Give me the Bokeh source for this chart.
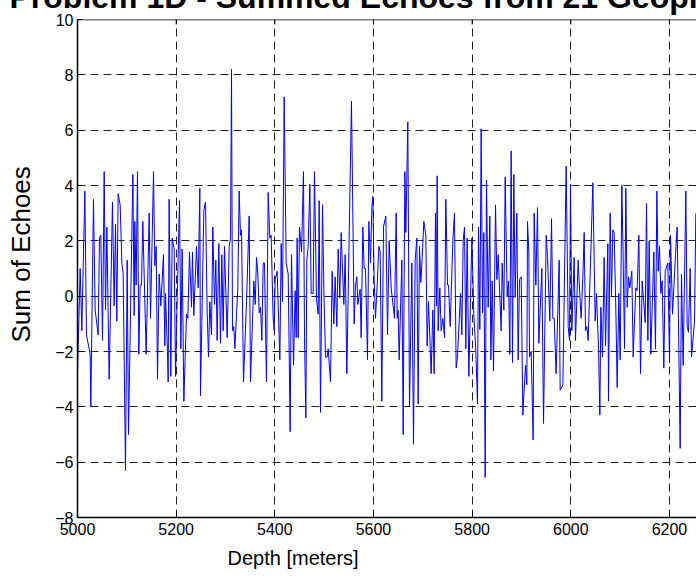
import numpy as np
from math import pi
from bokeh.plotting import figure
from bokeh.models import Range1d, LinearAxis, FixedTicker, Title, Grid, ColumnDataSource, Span
from bokeh.embed import file_html
from bokeh.resources import INLINE

title_text = "Problem 1D - Summed Echoes from 21 Geophones"
x_label = "Depth [meters]"
y_label = "Sum of Echoes"
x_ticks = [5000, 5200, 5400, 5600, 5800, 6000, 6200]
y_ticks = [-8, -6, -4, -2, 0, 2, 4, 6, 8, 10]

# ---- data, in six stretches of depth ----
depth_a = [5000.0, 5005.4, 5008.8, 5014.9, 5018.2, 5025.7, 5027.0, 5032.4, 5035.8, 5041.9,
           5044.6, 5047.3, 5050.7, 5054.1, 5056.8, 5059.5, 5064.2, 5070.9, 5074.3, 5077.0,
           5079.7, 5082.4, 5086.5, 5089.9, 5092.6, 5097.3, 5100.7, 5103.4, 5112.2, 5114.9,
           5116.2, 5118.9, 5121.6, 5124.3, 5127.0, 5129.7, 5132.4, 5139.2, 5145.3, 5148.0,
           5154.1, 5156.8, 5159.5, 5162.2, 5165.5, 5168.9, 5174.3, 5177.0, 5178.4, 5182.4,
           5183.8, 5185.8, 5189.2, 5191.9, 5196.0, 5198.7, 5202.7, 5206.8, 5209.5]
echo_a = [-2.8, 1.0, -1.25, 3.8, -1.4, -2.1, -4.0, 3.5, -0.5, -1.4,
          2.1, 2.2, -1.6, 4.5, -0.5, 2.5, -3.0, 3.4, -0.35, 2.6,
          -0.9, 3.7, 3.3, 1.2, 0.8, -6.3, 1.3, -5.0, 4.4, -0.7,
          2.7, 0.4, 4.5, -2.1, 0.4, 0.4, 2.7, -2.1, 3.0, -0.8,
          4.5, 1.1, 1.8, -3.0, 0.8, -0.35, 1.5, -1.8, 0.1, -2.0,
          -3.1, 3.5, -2.9, 2.1, 1.7, -2.9, 0.4, 3.45, -1.9]

depth_b = [5212.2, 5215.6, 5221.0, 5223.7, 5227.0, 5231.1, 5233.1, 5235.8, 5241.2, 5244.6,
           5248.0, 5249.3, 5252.0, 5256.1, 5259.5, 5262.9, 5265.6, 5268.3, 5271.6, 5274.3,
           5277.7, 5280.4, 5283.1, 5286.5, 5289.9, 5292.6, 5295.3, 5298.0, 5303.4, 5307.5,
           5310.2, 5312.2, 5314.2, 5316.9, 5319.0, 5325.0, 5327.7, 5330.4, 5332.5, 5336.5,
           5342.6, 5348.0, 5350.7, 5357.5, 5360.2, 5362.9, 5365.6, 5368.3, 5371.0, 5373.7,
           5376.4, 5379.1, 5383.1, 5386.5, 5389.9, 5392.6, 5396.6, 5398.7, 5400.7, 5404.7,
           5410.2, 5412.9, 5415.6, 5419.0]
echo_b = [1.7, -3.8, -0.65, -0.8, 1.6, -0.4, 1.6, -0.7, 1.8, 0.3,
          3.9, -3.6, -1.0, 3.1, 3.4, -0.65, -2.2, -0.2, -1.4, 2.5,
          -0.3, 1.3, -1.6, 1.9, -1.7, 1.5, -1.25, 1.8, -1.5, 1.8,
          2.1, 8.2, -1.25, -1.1, -1.9, 0.3, 3.8, 2.2, 2.4, -3.1,
          -0.2, 2.9, -3.1, 0.55, -0.3, 1.4, 0.8, -0.6, -0.4, -1.6,
          1.2, 1.2, -3.1, 3.75, 2.1, 2.2, -0.8, -1.25, 0.6, 0.9,
          -2.3, 1.9, -0.2, 7.2]

depth_c = [5423.0, 5427.1, 5431.1, 5433.8, 5437.9, 5441.2, 5443.3, 5445.3, 5447.3, 5450.0,
           5454.1, 5458.1, 5460.2, 5462.9, 5464.9, 5467.6, 5471.0, 5473.7, 5477.7, 5480.4,
           5484.5, 5487.9, 5489.9, 5492.6, 5496.7, 5499.4, 5502.7, 5506.1, 5508.1, 5512.9,
           5516.2, 5519.6, 5522.3, 5525.7, 5528.4, 5531.8, 5534.5, 5539.9, 5542.6, 5546.0,
           5555.4, 5560.8, 5563.6, 5566.3, 5568.3, 5570.3, 5573.0, 5575.0, 5578.4, 5581.1,
           5583.8, 5587.9, 5590.6, 5594.0, 5596.7, 5598.7, 5601.4, 5604.1, 5607.5, 5610.9,
           5613.6, 5616.9, 5620.3, 5625.0]
echo_c = [1.2, 0.8, -4.9, 1.5, -2.5, 0.2, -1.5, 2.1, -1.5, 2.5,
          1.6, 4.5, -1.5, -4.4, 1.3, 1.8, 4.05, 0.1, 0.1, 4.5,
          -0.1, -0.65, 3.45, -4.2, 3.3, 0.25, -2.2, -2.2, -1.9, -3.1,
          0.9, -1.0, 0.7, -1.1, 1.7, -0.05, 2.3, -0.3, 1.5, -2.8,
          7.05, -1.0, 0.4, 0.7, -0.3, -0.05, 0.25, -1.5, 2.5, 1.0,
          1.0, -2.3, 2.7, 1.2, 3.2, 3.6, 0.55, -0.8, 0.4, 1.8,
          1.6, -3.8, 2.5, 2.9]

depth_d = [5628.4, 5631.8, 5635.9, 5642.6, 5646.0, 5648.0, 5650.0, 5652.1, 5657.5, 5660.2,
           5663.6, 5665.6, 5669.6, 5673.0, 5677.8, 5681.1, 5684.5, 5687.9, 5690.6, 5693.3,
           5696.0, 5698.7, 5702.1, 5706.1, 5708.8, 5711.5, 5716.9, 5720.3, 5723.0, 5725.7,
           5727.8, 5729.1, 5731.1, 5734.5, 5737.2, 5740.6, 5744.0, 5746.7, 5750.1, 5752.1,
           5755.5, 5760.9, 5764.2, 5767.6, 5770.3, 5776.4, 5779.1, 5781.8, 5784.5, 5787.2,
           5789.9, 5793.3, 5799.4, 5803.4, 5807.5, 5810.9, 5812.9, 5815.6, 5818.3, 5821.0,
           5823.7, 5826.4, 5829.1, 5832.5, 5835.9]
echo_d = [-1.4, 2.0, 0.3, -0.8, 3.0, -0.8, -0.5, -2.3, 1.3, -5.0,
          4.5, 2.3, 6.3, -4.0, 1.2, -5.35, 1.3, 2.1, -3.9, 1.8,
          0.5, 1.4, 2.7, 2.2, -1.8, -0.2, -2.8, -0.5, -2.8, 3.0,
          -0.35, 4.35, -1.25, 0.3, -1.25, -0.8, -1.5, 3.5, 0.4, 0.4,
          -1.1, 2.0, 3.0, -2.6, -2.2, 0.1, -1.4, 2.0, 2.5, -1.9,
          2.1, -2.9, 2.1, -0.65, -2.0, -3.9, 2.5, -1.2, 6.05, -0.6,
          2.3, -6.55, 4.2, -0.4, 2.9]

depth_e = [5837.9, 5840.6, 5843.3, 5847.4, 5850.1, 5852.8, 5858.9, 5860.9, 5864.3, 5867.0,
           5871.0, 5873.7, 5876.4, 5879.1, 5881.8, 5884.5, 5887.2, 5890.6, 5893.3, 5896.0,
           5899.4, 5902.8, 5908.2, 5910.9, 5912.2, 5914.9, 5916.3, 5919.7, 5923.7, 5925.7,
           5929.1, 5932.5, 5935.2, 5941.3, 5944.7, 5950.1, 5952.8, 5957.5, 5960.9, 5963.6,
           5966.3, 5970.3, 5976.4, 5978.4, 5983.9, 5990.6, 5994.7, 5997.4, 5999.4, 6002.1,
           6006.8, 6009.5, 6014.9, 6019.0, 6021.0, 6024.4, 6027.1, 6029.8, 6032.5, 6035.2,
           6041.3, 6044.7]
echo_e = [-2.3, 0.55, -2.7, 3.3, 0.6, 1.5, -1.25, 1.2, -0.5, 4.3,
          0.0, 0.55, -2.1, 5.25, -2.4, 4.4, -0.05, 3.0, -2.3, 0.6,
          0.7, -4.3, -2.5, -3.2, 2.7, 1.6, -2.2, -2.0, -5.2, 3.0,
          0.4, 3.2, -1.7, 1.0, -4.6, 2.2, 1.4, -0.9, 2.8, -0.8,
          -0.8, -2.8, 1.3, -3.4, -3.2, 4.7, -1.1, -1.6, 4.05, -1.25,
          1.4, -1.6, 1.3, -0.2, -0.8, 0.7, 2.3, -1.25, -1.1, -1.6,
          2.0, 4.1]

depth_f = [6049.4, 6052.1, 6056.2, 6058.9, 6060.9, 6064.3, 6067.6, 6070.4, 6075.1, 6076.4,
           6079.8, 6082.5, 6085.2, 6087.9, 6091.3, 6094.0, 6097.4, 6100.1, 6103.5, 6106.2,
           6108.9, 6111.6, 6114.3, 6117.0, 6119.7, 6123.7, 6126.4, 6131.8, 6134.5, 6137.9,
           6141.3, 6144.7, 6150.8, 6153.5, 6156.2, 6158.9, 6162.2, 6168.3, 6171.7, 6174.4,
           6177.1, 6179.8, 6182.5, 6185.2, 6188.6, 6191.3, 6196.7, 6200.1, 6202.1, 6206.2,
           6212.2, 6215.6, 6221.7, 6224.4, 6227.8, 6233.2, 6235.9, 6238.6, 6242.0, 6244.7,
           6250.8, 6253.5]
echo_f = [-0.9, 0.1, -1.9, -4.3, -0.4, -2.2, 1.4, -1.8, 1.9, -3.8,
          3.0, 0.0, 2.4, 2.3, -0.5, -3.3, 0.1, -2.3, 4.0, 1.3,
          -1.9, 3.9, -0.4, 0.7, 0.3, 0.9, -2.2, 0.3, 0.2, 2.2,
          -2.8, 0.55, -0.95, 3.35, -1.6, 2.0, -2.1, 1.6, -1.9, 3.8,
          0.9, 1.8, 0.1, 0.55, -2.6, 0.9, 1.2, -2.4, 2.2, -0.65,
          1.5, 2.5, -5.5, 0.8, -2.5, 3.8, -1.1, -1.3, 1.0, -2.2,
          -0.9, 3.0]

depth = depth_a + depth_b + depth_c + depth_d + depth_e + depth_f
echo = echo_a + echo_b + echo_c + echo_d + echo_e + echo_f
assert len(depth) == len(echo)

# ---- figure ----
FONT = "Liberation Sans"
PULL_T, PULL_L = 31, 20                   # canvas pulled up/left so the title shows only partly
FR_L, FR_T, FR_B = 77, 19, 517            # frame edges in window pixels
W, H = 696 + PULL_L, 576 + PULL_T
X_END = 6254.8

p = figure(width=W, height=H, output_backend="svg", toolbar_location=None,
           x_range=Range1d(5000, X_END), y_range=Range1d(-8, 10),
           x_axis_location=None, y_axis_location=None,
           min_border_left=FR_L + PULL_L, min_border_right=0,
           min_border_top=FR_T + PULL_T, min_border_bottom=576 - FR_B,
           margin=(-PULL_T, 0, 0, -PULL_L))
p.outline_line_color = None
p.background_fill_color = "white"
p.border_fill_color = "white"
p.grid.visible = False

xt = FixedTicker(ticks=x_ticks)
yt = FixedTicker(ticks=y_ticks)

def style_axis(ax):
    ax.major_tick_in = 5
    ax.major_tick_out = 0
    ax.minor_tick_in = 0
    ax.minor_tick_out = 0
    ax.axis_line_color = "black"
    ax.axis_line_width = 1.5
    ax.major_tick_line_color = "black"
    ax.major_tick_line_width = 1
    ax.major_label_text_font = FONT
    ax.major_label_text_color = "black"
    ax.major_label_text_font_size = "16px"

bottom = LinearAxis(ticker=xt)
style_axis(bottom)
bottom.major_label_standoff = 5
p.add_layout(bottom, "below")

left = LinearAxis(ticker=yt)
style_axis(left)
left.major_label_standoff = 4
p.add_layout(left, "left")

# top border with inward ticks
p.add_layout(Span(location=10, dimension="width", line_color="black", line_width=1.5))
p.ray(x=x_ticks, y=[10] * len(x_ticks), length=5, length_units="screen",
      angle=-pi / 2, line_color="black", line_width=1)

xg = Grid(dimension=0, ticker=FixedTicker(ticks=x_ticks[1:]),
          grid_line_color="#202020", grid_line_width=1, grid_line_dash="8 5")
yg = Grid(dimension=1, ticker=FixedTicker(ticks=y_ticks[1:-1]),
          grid_line_color="#202020", grid_line_width=1, grid_line_dash="8 5")
p.add_layout(xg)
p.add_layout(yg)

src = ColumnDataSource(data=dict(depth=depth, echo=echo))
p.line("depth", "echo", source=src, line_color="#0000FF", line_width=1)

# axis labels and title as Title panels
p.add_layout(Title(text=x_label, align="left", offset=150, standoff=14, vertical_align="bottom",
                   text_font=FONT, text_font_size="20px", text_font_style="normal",
                   text_color="black"), "below")
p.add_layout(Title(text=y_label, align="left", offset=175, standoff=33, vertical_align="bottom",
                   text_font=FONT, text_font_size="26px", text_font_style="normal",
                   text_color="black"), "left")
p.add_layout(Title(text=title_text, align="left", offset=-68, standoff=9, vertical_align="bottom",
                   text_font=FONT, text_font_size="32px", text_font_style="bold",
                   text_color="black"), "above")

open("out.html", "w").write(file_html(p, INLINE))
